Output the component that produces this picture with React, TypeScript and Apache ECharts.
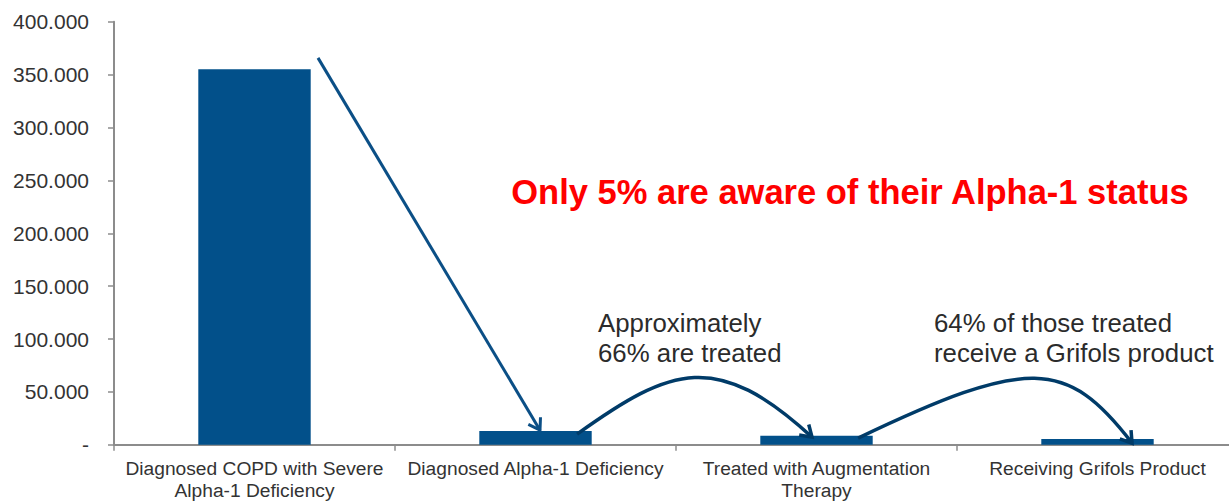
import { useEffect, useRef } from 'react';
import * as echarts from 'echarts';

const categories = [
  'Diagnosed COPD with Severe\nAlpha-1 Deficiency',
  'Diagnosed Alpha-1 Deficiency',
  'Treated with Augmentation\nTherapy',
  'Receiving Grifols Product',
];
const patients = [355000, 13000, 8600, 5500];
const axisMax = 400000;
const axisStep = 50000;
const headline = 'Only 5% are aware of their Alpha-1 status';
const noteTreated = ['Approximately', '66% are treated'];
const noteGrifols = ['64% of those treated', 'receive a Grifols product'];

const FONT = '"Liberation Sans", Arial, Helvetica, sans-serif';
const BAR = '#02508a';
const ARROW = '#0b4f86';
const CURVE = '#003b68';

function fmtTick(v: number): string {
  if (v === 0) return '-';
  return String(Math.round(v / 1000)) + '.000';
}

function head(tip: number[], from: number[], color: string, lw: number) {
  const dx = tip[0] - from[0];
  const dy = tip[1] - from[1];
  const ang = Math.atan2(dy, dx) + Math.PI;
  const len = 13;
  const spread = (33 * Math.PI) / 180;
  const a1 = [tip[0] + len * Math.cos(ang - spread), tip[1] + len * Math.sin(ang - spread)];
  const a2 = [tip[0] + len * Math.cos(ang + spread), tip[1] + len * Math.sin(ang + spread)];
  return {
    type: 'polyline',
    silent: true,
    shape: { points: [a1, tip, a2] },
    style: { stroke: color, lineWidth: lw, fill: null, lineJoin: 'miter' },
    z: 10,
  };
}

export default function App() {
  const ref = useRef<HTMLDivElement>(null);
  useEffect(() => {
    if (!ref.current) return;
    const chart = echarts.init(ref.current, null, { renderer: 'svg' });
    chart.setOption({
      animation: false,
      grid: { left: 114, right: 0, top: 21.7, bottom: 55.3, containLabel: false },
      xAxis: {
        type: 'category',
        data: categories,
        boundaryGap: true,
        axisLine: { show: true, lineStyle: { color: '#8c8c8c', width: 2 } },
        axisTick: { show: true, length: 6, alignWithLabel: false, lineStyle: { color: '#8c8c8c', width: 1.5 } },
        axisLabel: {
          interval: 0,
          margin: 12,
          fontFamily: FONT,
          fontSize: 19.2,
          lineHeight: 22.6,
          color: '#333333',
        },
        splitLine: { show: false },
      },
      yAxis: {
        type: 'value',
        min: 0,
        max: axisMax,
        interval: axisStep,
        axisLine: { show: true, lineStyle: { color: '#8c8c8c', width: 2 } },
        axisTick: { show: true, length: 6, lineStyle: { color: '#8c8c8c', width: 1.5 } },
        axisLabel: {
          margin: 25,
          fontFamily: FONT,
          fontSize: 21,
          color: '#333333',
          formatter: (v: number) => fmtTick(v),
        },
        splitLine: { show: false },
      },
      series: [
        {
          type: 'bar',
          data: patients,
          barWidth: '40%',
          itemStyle: { color: BAR },
        },
      ],
    });

    const c0 = chart.convertToPixel({ seriesIndex: 0 }, [0, 0]) as number[];
    const c1 = chart.convertToPixel({ seriesIndex: 0 }, [1, 0]) as number[];
    const band = c1[0] - c0[0];
    const P = (c: number, v: number): number[] => {
      const y = (chart.convertToPixel({ seriesIndex: 0 }, [0, v]) as number[])[1];
      return [c0[0] + c * band, y];
    };

    const sA = P(0.226, 365800);
    const sB = P(1.016, 13800);

    const k1 = [P(1.148, 10070), P(1.486, 74450), P(1.646, 89500), P(1.984, 7250)];
    const k2 = [P(2.148, 6300), P(2.753, 83100), P(2.891, 81740), P(3.123, 1600)];

    const bez = (p: number[][]) => ({
      type: 'bezierCurve',
      silent: true,
      shape: {
        x1: p[0][0], y1: p[0][1],
        cpx1: p[1][0], cpy1: p[1][1],
        cpx2: p[2][0], cpy2: p[2][1],
        x2: p[3][0], y2: p[3][1],
      },
      style: { stroke: CURVE, lineWidth: 3.5, fill: null },
      z: 10,
    });

    const txt = (x: number, y: number, text: string, extra: any) => ({
      type: 'text',
      silent: true,
      x,
      y,
      style: {
        text,
        fontFamily: FONT,
        verticalAlign: 'middle',
        ...extra,
      },
      z: 12,
    });

    const note = { fontSize: 25.8, fill: '#2b2b2b', align: 'left' };

    chart.setOption({
      graphic: [
        {
          type: 'line',
          silent: true,
          shape: { x1: sA[0], y1: sA[1], x2: sB[0], y2: sB[1] },
          style: { stroke: ARROW, lineWidth: 3 },
          z: 10,
        },
        head(sB, sA, ARROW, 3),
        bez(k1),
        head(k1[3], k1[2], CURVE, 3.5),
        bez(k2),
        head(k2[3], k2[2], CURVE, 3.5),
        txt(850, 192, headline, { fontSize: 34.5, fontWeight: 'bold', fill: '#ff0000', align: 'center' }),
        txt(598, 323, noteTreated[0], note),
        txt(598, 352.5, noteTreated[1], note),
        txt(934, 323, noteGrifols[0], note),
        txt(934, 352.5, noteGrifols[1], note),
      ],
    });

    return () => chart.dispose();
  }, []);

  return (
    <div
      style={{ position: 'absolute', left: 0, top: 0, width: 1229, height: 502, overflow: 'hidden', background: '#ffffff' }}
    >
      <div ref={ref} style={{ width: 1238, height: 502 }} />
    </div>
  );
}
